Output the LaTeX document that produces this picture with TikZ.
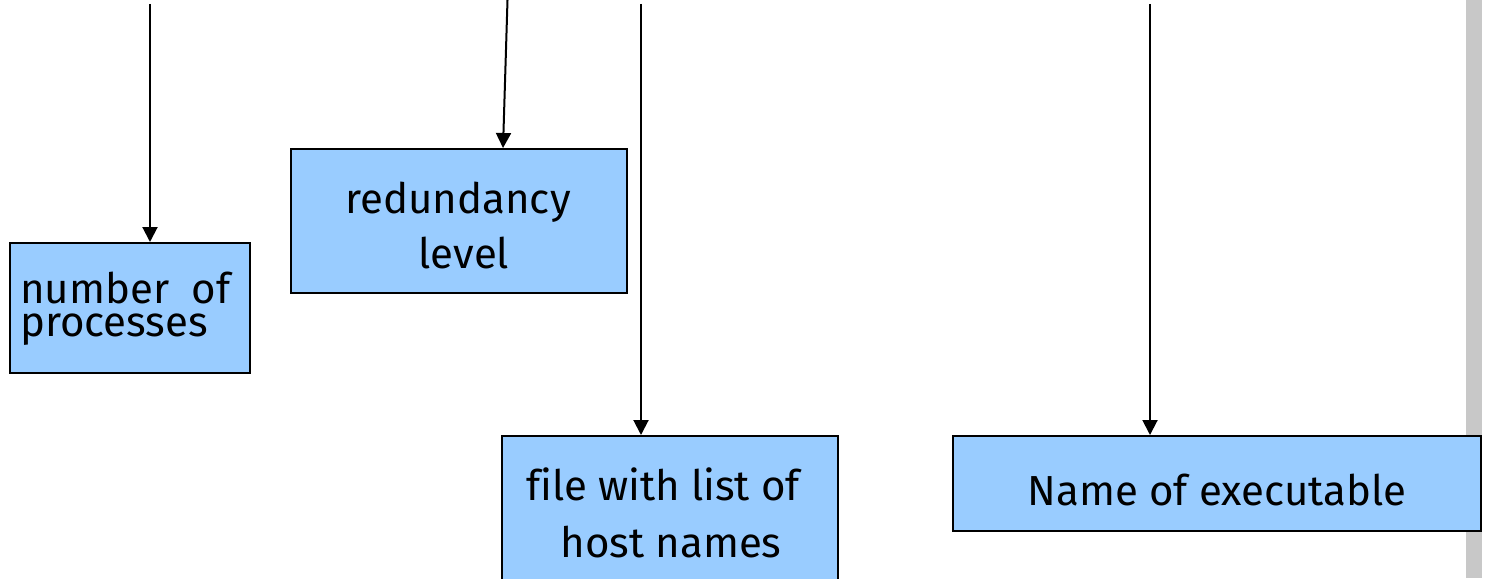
\documentclass[tikz,border=0pt]{standalone}
\usepackage{fontspec}
\setmainfont[Ligatures=CommonOff]{Fira Sans}
\usetikzlibrary{arrows.meta,calc}
\definecolor{boxblue}{HTML}{99CCFF}
\definecolor{bargrey}{HTML}{C8C8C8}
\begin{document}
\begin{tikzpicture}[x=1pt,y=-1pt,
  boxstyle/.style={draw=black,line width=2pt,fill=boxblue,rectangle,inner sep=0pt},
  lbl/.style={font=\fontsize{42}{42}\selectfont,inner sep=0pt,anchor=base},
  arr/.style={line width=2pt,-{Triangle[length=15pt,width=15pt]}}]
\useasboundingbox (0,0) rectangle (1485,578);
% grey bar
\fill[bargrey] (1466,0) rectangle (1482,578);
% boxes
\node[boxstyle,minimum width=240pt,minimum height=130pt] (n1) at (130,308) {};
\node[boxstyle,minimum width=336pt,minimum height=144pt] (n2) at (459,221) {};
\node[boxstyle,minimum width=336pt,minimum height=160pt] (n3) at (670,516) {};
\node[boxstyle,minimum width=528pt,minimum height=95pt] (n4) at (1217,483.5) {};
% texts
\node[lbl,anchor=base west,text depth=0pt] (t1a) at (20,303) {number\ \ of};
\node[lbl,anchor=base west,text height=23pt] (t1b) at (20,336) {processes};
\node[lbl] (t2a) at (458,213) {redundancy};
\node[lbl] (t2b) at (464,268) {level};
\node[lbl] (t3a) at (663,500) {file with list of};
\node[lbl] (t3b) at (671,557) {host names};
\node[lbl] (t4) at (1217,505) {Name of executable};
% arrows
\coordinate (s1) at (150,4);
\coordinate (s2) at (507.5,0);
\coordinate (s3) at (641,4);
\coordinate (s4) at (1150,4);
\draw[arr] (s1) -- (s1 |- n1.north);
\draw[arr] (s2) -- ($(n2.north)+(44,0)$);
\draw[arr] (s3) -- (s3 |- n3.north);
\draw[arr] (s4) -- (s4 |- n4.north);
\end{tikzpicture}
\end{document}
